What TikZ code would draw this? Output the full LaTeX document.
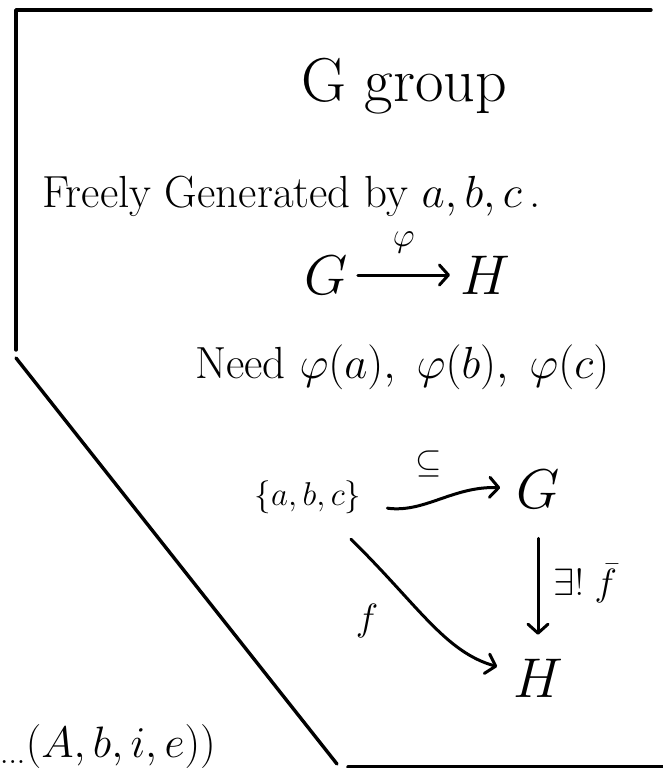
\RequirePackage{fix-cm}
\documentclass[tikz,border=0pt]{standalone}
\usepackage{amsmath,amssymb}
\usepackage{tikz}
\usetikzlibrary{arrows.meta}
\newcommand{\fsz}[1]{\fontsize{#1}{#1}\selectfont}

\begin{document}
\begin{tikzpicture}[x=1pt, y=-1pt,
    border/.style={line width=3.4pt, line cap=round, line join=round},
    arr/.style={-{Straight Barb[length=9pt, width=20pt, round]}, line width=3pt, line cap=round},
    obj/.style={inner sep=10pt, font=\fsz{56}},
    txt/.style={inner sep=0pt, font=\fsz{45}},
    lbl/.style={inner sep=0pt, font=\fsz{34}}
]
\useasboundingbox (0,0) rectangle (663,768);

% page edges
\draw[border] (651,10) -- (16,10) -- (16,350);
\draw[border] (16,358) -- (337,764);
\draw[border] (348,767) -- (663,767);

% text
\node[txt, font=\fsz{62}, anchor=base] (title) at (404,101) {G\ group};
\node[txt, anchor=base west] (free) at (42,207) {Freely Generated by $a,b,c$\,.};
\node[obj] (g1) at (326,275) {$G$};
\node[obj] (h1) at (485,275) {$H$};
\draw[arr] (g1) -- node[lbl, above=20pt] (phi) {$\varphi$} (h1);
\node[txt, anchor=base west] (need) at (195,378) {Need $\varphi(a),\ \varphi(b),\ \varphi(c)$};

% diagram
\node[obj, font=\fsz{33}] (gens) at (308,497) {$\{a,b,c\}$};
\node[obj] (g2) at (538,489) {$G$};
\node[obj] (h2) at (538,678) {$H$};
\draw[arr, shorten <=16pt, shorten >=6pt] (gens) to[out=-8, in=178]
    node[lbl, above=20pt, xshift=-10pt] (incl) {$\subseteq$} (g2);
\draw[arr, shorten <=20pt, shorten >=14pt] (g2) --
    node[lbl, right=14pt, font=\fsz{38}] (ext) {$\exists!\;\bar f$} (h2);
\draw[arr, shorten <=22pt, shorten >=6pt] (gens) .. controls (418,605) and (445,652) .. (h2);
\node[lbl, font=\fsz{38}] (flab) at (367,621) {$f$};

\node[txt, font=\fsz{44}, anchor=base east] (tail) at (216,757) {$_{\ldots}(A,b,i,e))$};
\end{tikzpicture}
\end{document}
